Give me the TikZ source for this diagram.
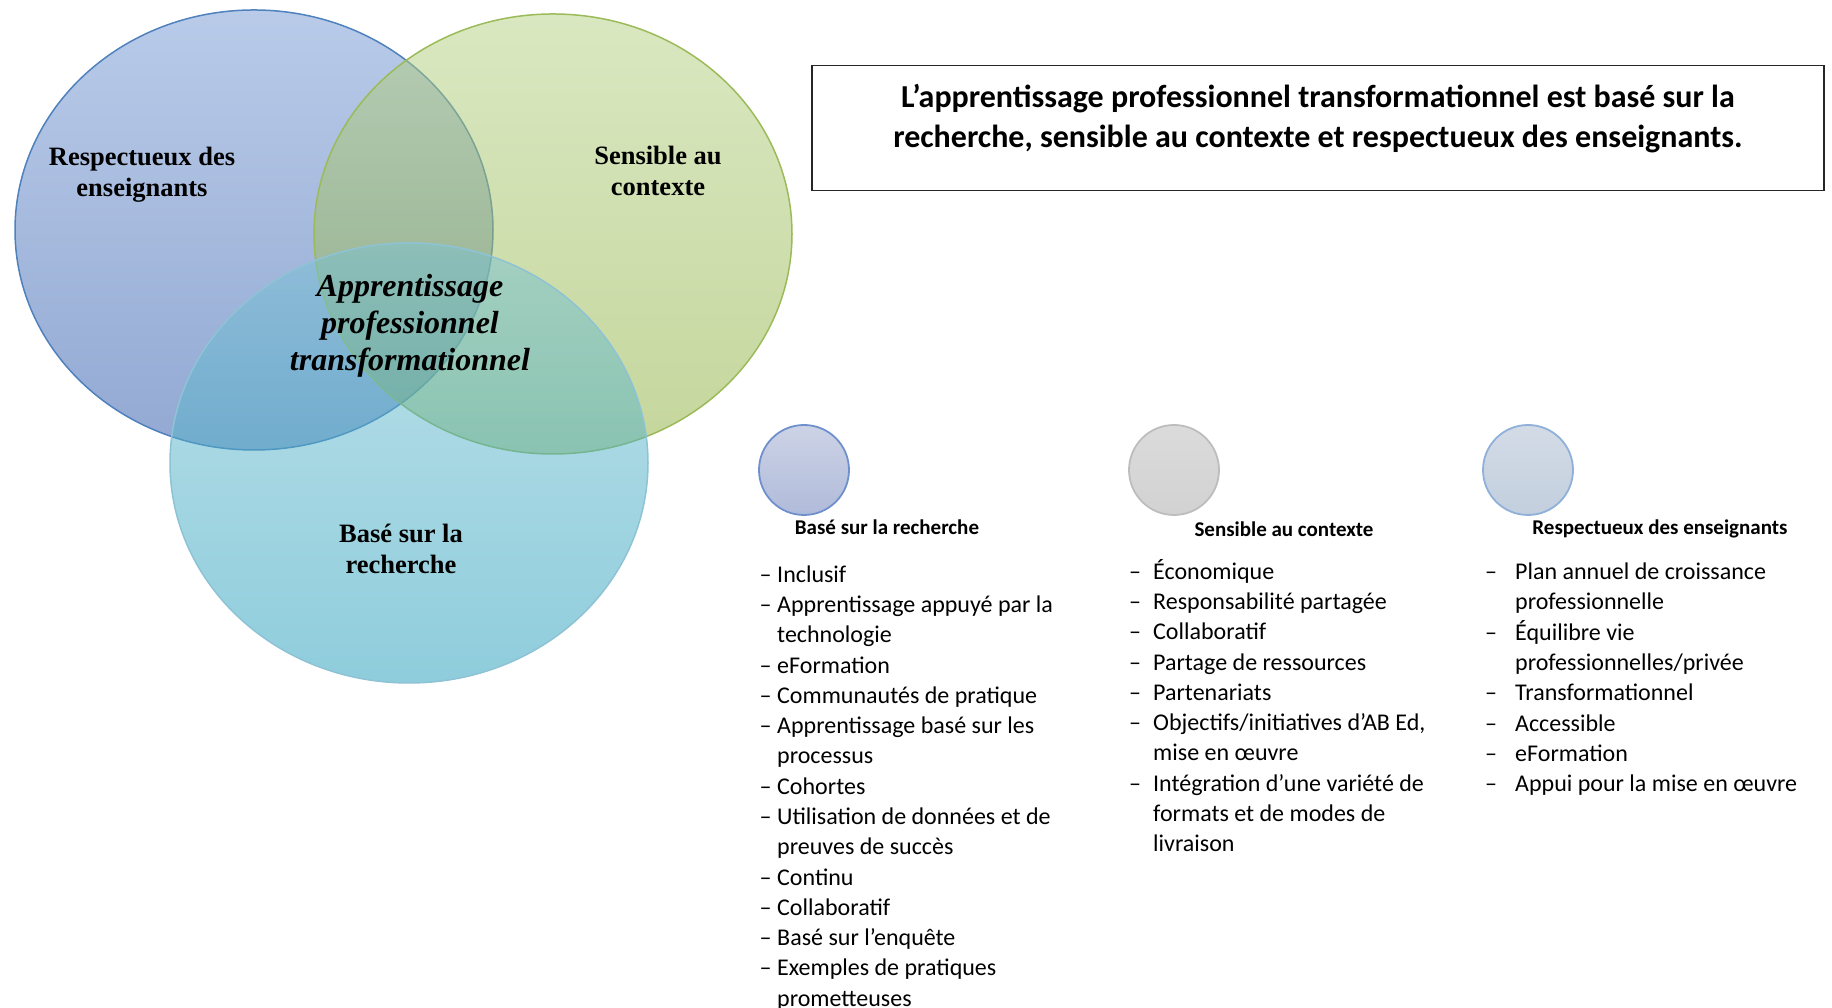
\documentclass[tikz,border=0pt]{standalone}
\usepackage{fontspec}
\setmainfont{Carlito}
\newfontfamily\vennfont{Liberation Serif}
\usepackage{xcolor}
\usepackage{tikz}
\definecolor{resptop}{HTML}{7397D3}
\definecolor{respbot}{HTML}{2753A7}
\definecolor{respline}{HTML}{4F81BD}
\definecolor{senstop}{HTML}{B5D183}
\definecolor{sensbot}{HTML}{8BAD39}
\definecolor{sensline}{HTML}{9BBB59}
\definecolor{rechtop}{HTML}{7BC3D5}
\definecolor{rechbot}{HTML}{1F9BB9}
\definecolor{rechline}{HTML}{8DC3D5}
\definecolor{dotrechtop}{HTML}{CDD3E6}
\definecolor{dotrechbot}{HTML}{B0BBDA}
\definecolor{dotrechline}{HTML}{6F90CC}
\definecolor{dotsenstop}{HTML}{DBDBDB}
\definecolor{dotsensbot}{HTML}{D2D2D2}
\definecolor{dotsensline}{HTML}{BDBDBD}
\definecolor{dotresptop}{HTML}{D3DBE6}
\definecolor{dotrespbot}{HTML}{C3CFDE}
\definecolor{dotrespline}{HTML}{8FB1D9}
\usetikzlibrary{shapes.geometric, positioning}

\tikzset{
  venncircle/.style={ellipse, line width=1.5pt, fill opacity=0.5, minimum width=478pt, minimum height=440pt},
  vennlabel/.style={align=center, font=\vennfont\bfseries\fontsize{26.5}{31.5}\selectfont},
  bulletcircle/.style={circle, line width=1.8pt, minimum size=90pt},
  headtext/.style={anchor=base, font=\bfseries\fontsize{21}{25}\selectfont},
  listtext/.style={anchor=base west, inner sep=0pt, font=\fontsize{24}{30.28}\selectfont}
}

\begin{document}
\begin{tikzpicture}[x=1pt, y=1pt]
\useasboundingbox (0,0) rectangle (1832,1008);
% Draw the three overlapping circles
\node[venncircle, draw=respline, top color=resptop, bottom color=respbot] (respect) at (254,778) {};
\node[venncircle, draw=sensline, top color=senstop, bottom color=sensbot] (sensible) at (553,774) {};
\node[venncircle, draw=rechline, top color=rechtop, bottom color=rechbot] (recherche) at (409,545) {};
\node[vennlabel] (resplabel) at (142,833.5) {Respectueux des\\enseignants};
\node[vennlabel] (senslabel) at (658,837) {Sensible au\\contexte};
\node[vennlabel] (rechlabel) at (401,459) {Basé sur la\\recherche};
\node[vennlabel, font=\vennfont\bfseries\itshape\fontsize{32}{36.8}\selectfont] (centre) at (410,682) {Apprentissage\\professionnel\\transformationnel};
% Title box
\node[draw=black!85, line width=1.2pt, minimum width=1012pt, minimum height=125pt] (titlebox) at (1318,880) {};
\node[align=center, font=\bfseries\fontsize{32}{39.7}\selectfont] (titletext) at (1318,889.5) {L’apprentissage professionnel transformationnel est basé sur la\\recherche, sensible au contexte et respectueux des enseignants.};
% Small circles with headings
\node[bulletcircle, draw=dotrechline, top color=dotrechtop, bottom color=dotrechbot] (dotrech) at (804,538) {};
\node[bulletcircle, draw=dotsensline, top color=dotsenstop, bottom color=dotsensbot] (dotsens) at (1174,538) {};
\node[bulletcircle, draw=dotrespline, top color=dotresptop, bottom color=dotrespbot] (dotresp) at (1528,538) {};
\node[headtext] (headrech) at (887,473.7) {Basé sur la recherche};
\node[headtext] (headsens) at (1284,471.7) {Sensible au contexte};
\node[headtext] (headresp) at (1660,473.7) {Respectueux des enseignants};
% Lists
\node[listtext] (listrech) at (759.5,425.7) {\begin{tabular}[t]{@{}p{17.5pt}@{}l@{}}
– & Inclusif\\
– & Apprentissage appuyé par la\\
  & technologie\\
– & eFormation\\
– & Communautés de pratique\\
– & Apprentissage basé sur les\\
  & processus\\
– & Cohortes\\
– & Utilisation de données et de\\
  & preuves de succès\\
– & Continu\\
– & Collaboratif\\
– & Basé sur l’enquête\\
– & Exemples de pratiques\\
  & prometteuses
\end{tabular}};
\node[listtext] (listsens) at (1129,428.7) {\begin{tabular}[t]{@{}p{24pt}@{}l@{}}
– & Économique\\
– & Responsabilité partagée\\
– & Collaboratif\\
– & Partage de ressources\\
– & Partenariats\\
– & Objectifs/initiatives d’AB Ed,\\
  & mise en œuvre\\
– & Intégration d’une variété de\\
  & formats et de modes de\\
  & livraison
\end{tabular}};
\node[listtext] (listresp) at (1485,428.3) {\begin{tabular}[t]{@{}p{30pt}@{}l@{}}
– & Plan annuel de croissance\\
  & professionnelle\\
– & Équilibre vie\\
  & professionnelles/privée\\
– & Transformationnel\\
– & Accessible\\
– & eFormation\\
– & Appui pour la mise en œuvre
\end{tabular}};
\end{tikzpicture}
\end{document}
